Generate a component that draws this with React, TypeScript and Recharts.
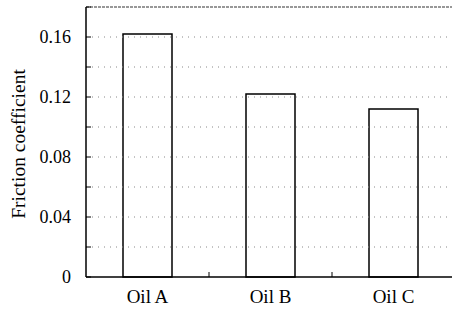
import React from 'react';
import { BarChart, Bar, XAxis, YAxis, ReferenceLine } from 'recharts';

const oils = ['Oil A', 'Oil B', 'Oil C'];
const friction = [0.162, 0.122, 0.112];
const yTicks = [0, 0.02, 0.04, 0.06, 0.08, 0.1, 0.12, 0.14, 0.16, 0.18];
const yLabels = [0, 0.04, 0.08, 0.12, 0.16];
const gridLines = [0.02, 0.04, 0.06, 0.08, 0.1, 0.12, 0.14, 0.16];

const data = oils.map((name, i) => ({ name, friction: friction[i] }));

const FONT = '"Liberation Serif", "Times New Roman", serif';
const BAND = (455 - 86) / oils.length;

const YTick = (props: any) => {
  const { x, y, payload } = props;
  const showLabel = yLabels.includes(payload.value);
  return (
    <g>
      <line x1={x + 15} x2={x + 20} y1={y} y2={y} stroke="#000" strokeWidth={1} />
      {showLabel && (
        <text x={x} y={y} dy={6} textAnchor="end" fontFamily={FONT} fontSize={18} fill="#000">
          {String(payload.value)}
        </text>
      )}
    </g>
  );
};

const XTick = (props: any) => {
  const { x, y, payload, index } = props;
  return (
    <g>
      {index < oils.length - 1 && (
        <line x1={x + BAND / 2} x2={x + BAND / 2} y1={277} y2={272} stroke="#000" strokeWidth={1} />
      )}
      <text x={x} y={y} dy={18} textAnchor="middle" fontFamily={FONT} fontSize={19} fill="#000">
        {payload.value}
      </text>
    </g>
  );
};

export default function App() {
  return (
    <div style={{ position: 'absolute', left: 0, top: 0, width: 452, height: 313, overflow: 'hidden', background: '#fff' }}>
      <BarChart width={460} height={313} data={data} margin={{ top: 7, right: 5, bottom: 0, left: 0 }}>
        {gridLines.map((v) => (
          <ReferenceLine key={v} y={v} stroke="#888" strokeDasharray="1 5" strokeWidth={1} />
        ))}
        <ReferenceLine y={0.18} stroke="#333" strokeDasharray="3 1" strokeWidth={1.2} />
        <XAxis
          dataKey="name"
          height={36}
          tickLine={false}
          tickSize={0}
          tickMargin={8}
          axisLine={{ stroke: '#000', strokeWidth: 1.5 }}
          tick={<XTick />}
        />
        <YAxis
          width={86}
          domain={[0, 0.18]}
          ticks={yTicks}
          interval={0}
          tickLine={false}
          tickSize={0}
          tickMargin={15}
          axisLine={{ stroke: '#000', strokeWidth: 1.5 }}
          tick={<YTick />}
          label={{
            value: 'Friction coefficient',
            angle: -90,
            position: 'insideLeft',
            dx: 13,
            dy: 2,
            style: { fontFamily: FONT, fontSize: 19.5, fill: '#000', textAnchor: 'middle' },
          }}
        />
        <Bar dataKey="friction" barSize={49} fill="#fff" stroke="#000" strokeWidth={1.5} isAnimationActive={false} />
      </BarChart>
    </div>
  );
}
